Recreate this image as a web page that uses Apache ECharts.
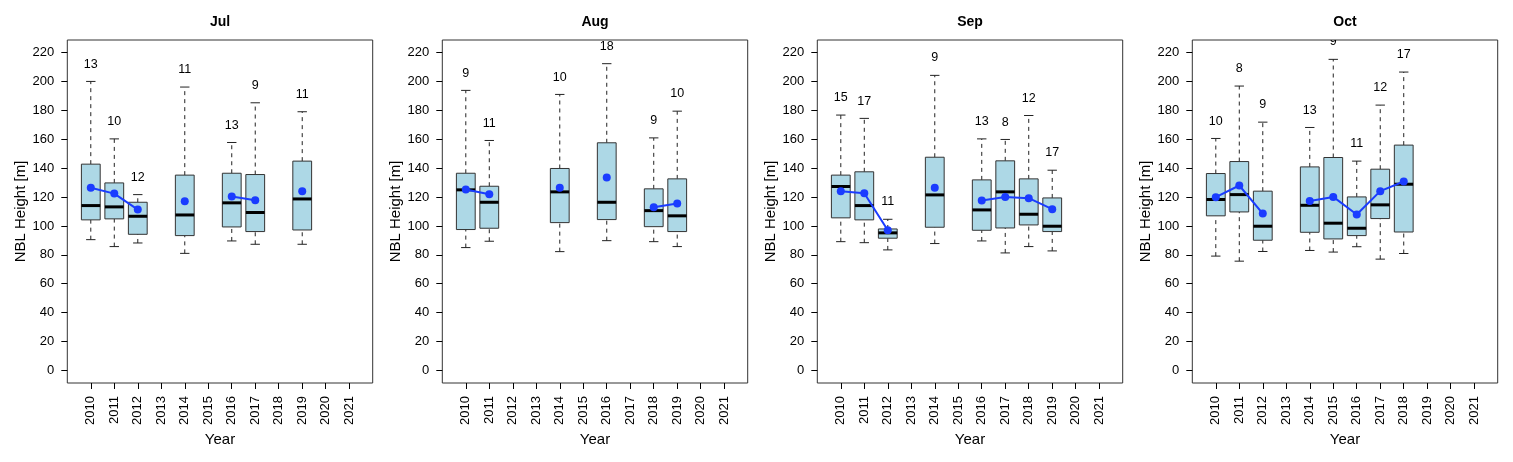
<!DOCTYPE html>
<html>
<head>
<meta charset="utf-8">
<script src="https://cdn.jsdelivr.net/npm/echarts@6.0.0/dist/echarts.min.js"></script>
<style>
html,body{margin:0;padding:0;background:#fff;}
#chart{width:1513px;height:462px;}
</style>
</head>
<body>
<div id="chart"></div>
<script>
// ---- data ----
const years = ['2010','2011','2012','2013','2014','2015','2016','2017','2018','2019','2020','2021'];
const yTicks = [0,20,40,60,80,100,120,140,160,180,200,220];
const months = ['Jul','Aug','Sep','Oct'];

// [year, lowerWhisker, Q1, median, Q3, upperWhisker]
const julBoxes = [
  [2010, 90.5, 104.2, 114.1, 142.8, 200.1],
  [2011, 85.7, 104.9, 113.2, 129.8, 160.3],
  [2012, 88.2, 94.2, 106.7, 116.4, 121.7],
  [2014, 81.0, 93.3, 107.6, 135.2, 196.2],
  [2016, 89.6, 99.3, 116.0, 136.5, 157.8],
  [2017, 87.3, 96.1, 109.3, 135.6, 185.3],
  [2019, 87.3, 97.2, 118.7, 144.9, 179.1]
];
const julMeans  = [126.4, 122.4, 111.3, 117.1, 120.4, 117.8, 124.1];
const julCounts = [13, 10, 12, 11, 13, 9, 11];

const augBoxes = [
  [2010, 85.0, 97.5, 125.0, 136.5, 193.9],
  [2011, 89.4, 98.4, 116.4, 127.5, 159.2],
  [2014, 82.2, 102.3, 123.6, 139.8, 191.1],
  [2016, 89.8, 104.4, 116.4, 157.6, 212.4],
  [2018, 89.1, 99.5, 110.6, 125.7, 161.0],
  [2019, 85.7, 96.1, 107.0, 132.6, 179.5]
];
const augMeans  = [125.2, 122.0, 126.4, 133.5, 112.9, 115.5];
const augCounts = [9, 11, 10, 18, 9, 10];

const sepBoxes = [
  [2010, 89.1, 105.6, 127.3, 135.2, 176.8],
  [2011, 88.4, 104.2, 114.1, 137.5, 174.5],
  [2012, 83.4, 91.5, 95.2, 97.9, 104.6],
  [2014, 87.8, 99.1, 121.5, 147.6, 204.3],
  [2016, 89.6, 97.0, 111.1, 131.9, 160.3],
  [2017, 81.3, 98.6, 123.6, 145.1, 159.9],
  [2018, 85.7, 100.7, 108.1, 132.6, 176.5],
  [2019, 82.7, 96.1, 99.8, 119.4, 138.6]
];
const sepMeans  = [124.1, 122.7, 97.0, 126.4, 117.6, 120.1, 119.2, 111.6];
const sepCounts = [15, 17, 11, 9, 13, 8, 12, 17];

const octBoxes = [
  [2010, 79.1, 107.0, 118.3, 136.3, 160.6],
  [2011, 75.6, 109.7, 121.7, 144.6, 196.9],
  [2012, 82.3, 90.1, 99.8, 124.1, 171.9],
  [2014, 83.0, 95.6, 114.3, 140.9, 168.2],
  [2015, 81.9, 91.0, 101.9, 147.4, 215.4],
  [2016, 85.6, 93.3, 98.4, 120.1, 144.9],
  [2017, 77.0, 105.1, 114.6, 139.3, 183.7],
  [2018, 80.9, 95.8, 128.9, 156.0, 206.6]
];
const octMeans  = [119.9, 128.0, 108.6, 117.3, 120.1, 107.9, 124.1, 130.8];
const octCounts = [10, 8, 9, 13, 9, 11, 12, 17];

const allBoxes  = [julBoxes, augBoxes, sepBoxes, octBoxes];
const allMeans  = [julMeans, augMeans, sepMeans, octMeans];
const allCounts = [julCounts, augCounts, sepCounts, octCounts];

// ---- layout / style ----
const FONT = '"Liberation Sans", Arial, Helvetica, sans-serif';
const PANEL_LEFT0 = 67.3, PANEL_STEP = 375, PANEL_W = 305.4, PANEL_TOP = 40, PANEL_H = 343;
const BOX_FILL = '#ADD8E6', EDGE = '#333333', MEAN_COLOR = '#1a3cff';
const yearPos = y => years.indexOf(String(y)) + 1;

const grids = [], xAxes = [], yAxes = [], series = [], graphics = [];

months.forEach((m, i) => {
  const left = PANEL_LEFT0 + PANEL_STEP * i;
  grids.push({
    left: left, top: PANEL_TOP, width: PANEL_W, height: PANEL_H,
    show: true, borderColor: EDGE, borderWidth: 1, backgroundColor: 'transparent',
    containLabel: false
  });
  xAxes.push({
    type: 'value', gridIndex: i, min: 0, max: 13, position: 'bottom',
    axisLine: {show: false, onZero: false},
    splitLine: {show: false},
    axisTick: {show: true, length: 6, lineStyle: {color: '#000'}, customValues: years.map((y, k) => k + 1)},
    axisLabel: {
      rotate: 90, margin: 13, fontSize: 13, color: '#000', fontFamily: FONT,
      customValues: years.map((y, k) => k + 1),
      formatter: v => years[Math.round(v) - 1] || ''
    },
    name: 'Year', nameLocation: 'middle', nameGap: 47,
    nameTextStyle: {fontSize: 15, color: '#000', fontFamily: FONT}
  });
  yAxes.push({
    type: 'value', gridIndex: i, min: -8.8, max: 228.8, position: 'left',
    axisLine: {show: false, onZero: false},
    splitLine: {show: false},
    axisTick: {show: true, length: 6, lineStyle: {color: '#000'}, customValues: yTicks},
    axisLabel: {margin: 13, fontSize: 13, color: '#000', fontFamily: FONT, customValues: yTicks},
    name: 'NBL Height [m]', nameLocation: 'middle', nameGap: 37,
    nameTextStyle: {fontSize: 15, color: '#000', fontFamily: FONT}
  });

  const boxes = allBoxes[i], means = allMeans[i], counts = allCounts[i];
  const boxData = boxes.map((b, k) => [yearPos(b[0]), b[1], b[2], b[3], b[4], b[5], counts[k]]);

  series.push({
    type: 'custom', xAxisIndex: i, yAxisIndex: i, clip: true, silent: true,
    data: boxData,
    renderItem: function (params, api) {
      const x = api.value(0);
      const lo = api.value(1), q1 = api.value(2), md = api.value(3), q3 = api.value(4), hi = api.value(5), n = api.value(6);
      const bw = api.size([0.8, 0])[0];
      const cw = bw / 2;
      const pLo = api.coord([x, lo]), pQ1 = api.coord([x, q1]), pMd = api.coord([x, md]);
      const pQ3 = api.coord([x, q3]), pHi = api.coord([x, hi]), pN = api.coord([x, hi + 12]);
      const cx = pMd[0];
      const dash = {stroke: '#222', lineWidth: 1, lineDash: [4, 4]};
      const solid = {stroke: '#222', lineWidth: 1};
      return {
        type: 'group',
        children: [
          {type: 'line', shape: {x1: cx, y1: pQ3[1], x2: cx, y2: pHi[1]}, style: dash},
          {type: 'line', shape: {x1: cx, y1: pLo[1], x2: cx, y2: pQ1[1]}, style: dash},
          {type: 'line', shape: {x1: cx - cw / 2, y1: pHi[1], x2: cx + cw / 2, y2: pHi[1]}, style: solid},
          {type: 'line', shape: {x1: cx - cw / 2, y1: pLo[1], x2: cx + cw / 2, y2: pLo[1]}, style: solid},
          {type: 'rect', shape: {x: cx - bw / 2, y: pQ3[1], width: bw, height: pQ1[1] - pQ3[1]},
            style: {fill: BOX_FILL, stroke: EDGE, lineWidth: 1}},
          {type: 'line', shape: {x1: cx - bw / 2, y1: pMd[1], x2: cx + bw / 2, y2: pMd[1]},
            style: {stroke: '#000', lineWidth: 3}},
          {type: 'text', x: cx, y: pN[1],
            style: {text: String(n), align: 'center', verticalAlign: 'middle', fill: '#000',
              font: '12.5px ' + FONT}}
        ]
      };
    }
  });

  // mean line: one value per year slot, gaps where no data
  const meanByYear = years.map((y, k) => {
    const idx = boxes.findIndex(b => String(b[0]) === y);
    return [k + 1, idx >= 0 ? means[idx] : null];
  });
  series.push({
    type: 'line', xAxisIndex: i, yAxisIndex: i, silent: true,
    data: meanByYear, connectNulls: false,
    symbol: 'circle', symbolSize: 8, showSymbol: true,
    lineStyle: {color: MEAN_COLOR, width: 2},
    itemStyle: {color: MEAN_COLOR},
    z: 5, animation: false
  });

  graphics.push({
    type: 'text', x: left + PANEL_W / 2, y: 22,
    style: {text: m, align: 'center', verticalAlign: 'middle', fill: '#000', font: 'bold 14px ' + FONT}
  });
});

const chart = echarts.init(document.getElementById('chart'), null, {renderer: 'canvas'});
chart.setOption({
  animation: false,
  backgroundColor: '#fff',
  grid: grids,
  xAxis: xAxes,
  yAxis: yAxes,
  series: series,
  graphic: graphics
});
</script>
</body>
</html>
